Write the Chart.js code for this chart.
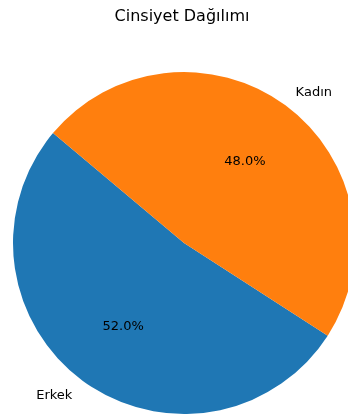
<!DOCTYPE html>
<html>
<head>
<meta charset="utf-8">
<script src="https://cdn.jsdelivr.net/npm/chart.js@4"></script>
<style>
  html, body { margin: 0; padding: 0; background: #fff; overflow: hidden; }
  #wrap { width: 368px; height: 417px; position: relative; }
</style>
</head>
<body>
<div id="wrap"><canvas id="pie-chart"></canvas></div>
<script>
const labels = ["Erkek", "Kadın"]
const values = [52, 48]
const colors = ["#1f77b4", "#ff7f0e"]
const title = "Cinsiyet Dağılımı"

// matplotlib-style labels: name at 1.1r, percent at 0.6r
const pieText = {
  id: "pieText",
  afterDatasetsDraw(chart) {
    const c = chart.ctx
    const meta = chart.getDatasetMeta(0)
    const total = values.reduce((a, b) => a + b, 0)
    c.save()
    c.fillStyle = "#000"
    c.textBaseline = "middle"
    meta.data.forEach((arc, i) => {
      const mid = (arc.startAngle + arc.endAngle) / 2
      const r = arc.outerRadius
      const cos = Math.cos(mid), sin = Math.sin(mid)
      c.font = "13px 'DejaVu Sans'"
      c.textAlign = cos >= 0 ? "left" : "right"
      c.fillText(labels[i], arc.x + 1.1 * r * cos, arc.y + 1.1 * r * sin + 1.5)
      c.textAlign = "center"
      c.fillText((values[i] / total * 100).toFixed(1) + "%", arc.x + 0.6 * r * cos, arc.y + 0.6 * r * sin + 1.5)
    })
    c.font = "16px 'DejaVu Sans'"
    c.textAlign = "center"
    c.fillText(title, 182, 17)
    c.restore()
  },
}

new Chart(document.getElementById("pie-chart"), {
  type: "pie",
  data: {
    labels: labels,
    datasets: [
      {
        data: values,
        backgroundColor: colors,
        borderWidth: 0,
      },
    ],
  },
  options: {
    responsive: true,
    maintainAspectRatio: false,
    animation: false,
    rotation: 122.8,
    layout: { padding: { top: 72, bottom: 3, left: 13, right: 13 } },
    plugins: {
      legend: { display: false },
      tooltip: { enabled: false },
    },
  },
  plugins: [pieText],
})
</script>
</body>
</html>
